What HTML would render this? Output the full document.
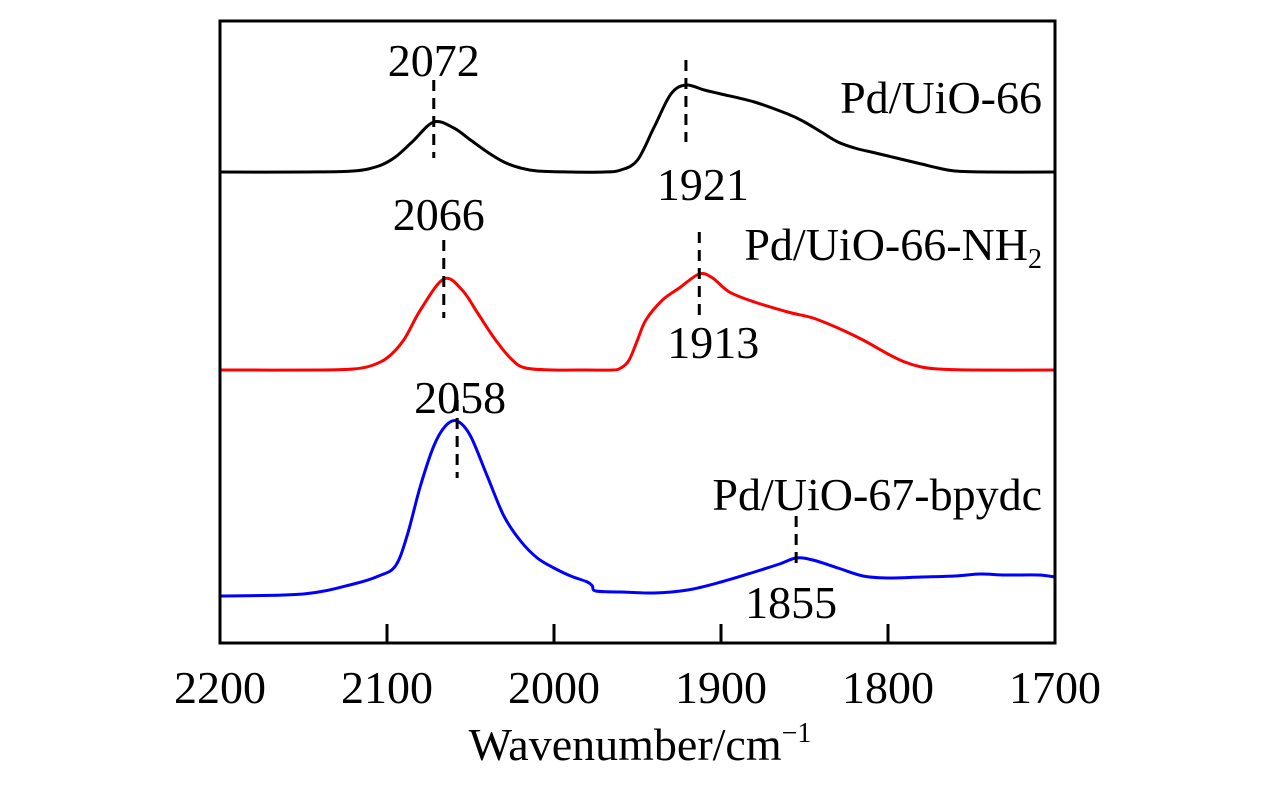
<!DOCTYPE html>
<html><head><meta charset="utf-8">
<style>
html,body{margin:0;padding:0;background:#fff;}
svg{display:block;}
text{font-family:"Liberation Serif","DejaVu Serif",serif;fill:#000;}
</style></head>
<body>
<svg id="chart" width="1276" height="787" viewBox="0 0 1276 787" xmlns="http://www.w3.org/2000/svg">
<g id="plot"></g>
</svg>
<script>
// x-axis ticks (wavenumber, cm^-1)
const tickValues = [2200, 2100, 2000, 1900, 1800, 1700];
const tickLabels = ["2200", "2100", "2000", "1900", "1800", "1700"];
// Series: wavenumbers and intensity above baseline (a.u.)
const uio66Wn = [2200,2150,2120,2105,2095,2085,2072,2060,2050,2040,2030,2020,2010,1990,1970,1960,1950,1940,1930,1921,1910,1900,1880,1860,1850,1840,1830,1820,1810,1800,1790,1780,1770,1760,1740,1700];
const uio66Int = [0,0,1,6,15,30,50,44,32,20,10,4,1,0,0,2,12,45,78,87,82,78,70,58,50,40,30,24,20,16,12,8,4,1,0,0];
const nh2Wn = [2200,2140,2120,2110,2100,2090,2080,2066,2055,2045,2035,2025,2017,2000,1980,1965,1960,1955,1950,1945,1935,1925,1913,1905,1895,1880,1860,1845,1830,1815,1800,1790,1780,1770,1750,1700];
const nh2Int = [0,0,1,4,12,30,60,91,80,55,30,10,2,0,0,0,2,10,30,50,70,82,96,92,78,68,58,52,42,30,16,8,3,1,0,0];
const bpyWn = [2200,2150,2120,2105,2095,2088,2080,2072,2065,2058,2050,2040,2030,2020,2010,2000,1990,1980,1977,1975,1960,1940,1920,1900,1880,1865,1855,1845,1830,1815,1800,1780,1760,1745,1730,1710,1700];
const bpyInt = [0,2,12,20,30,60,110,150,170,175,160,120,80,55,38,28,20,14,10,5,4,3,6,14,24,32,38,36,28,20,18,19,20,22,21,21,19];
const peakWn = [2072, 1921, 2066, 1913, 2058, 1855];

const X0 = 220, X1 = 1055, Y0 = 21, Y1 = 643;
const xs = w => X0 + (2200 - w) * (X1 - X0) / 500;
const SCALE = 1.0;
const NS = "http://www.w3.org/2000/svg";
const g = document.getElementById('plot');
function mk(tag, attrs){const e=document.createElementNS(NS,tag);for(const k in attrs)e.setAttribute(k,attrs[k]);g.appendChild(e);return e;}

function smoothPath(pts){
  let d = `M${pts[0][0].toFixed(1)},${pts[0][1].toFixed(1)}`;
  for(let i=0;i<pts.length-1;i++){
    const p0=pts[Math.max(i-1,0)],p1=pts[i],p2=pts[i+1],p3=pts[Math.min(i+2,pts.length-1)];
    const c1=[p1[0]+(p2[0]-p0[0])/6,p1[1]+(p2[1]-p0[1])/6];
    const c2=[p2[0]-(p3[0]-p1[0])/6,p2[1]-(p3[1]-p1[1])/6];
    d+=` C${c1[0].toFixed(1)},${c1[1].toFixed(1)} ${c2[0].toFixed(1)},${c2[1].toFixed(1)} ${p2[0].toFixed(1)},${p2[1].toFixed(1)}`;
  }
  return d;
}
function series(wn, inten, base, color, name){
  const pts = wn.map((w,i)=>[xs(w), base - inten[i]*SCALE]);
  const p = mk('path',{d:smoothPath(pts),fill:'none',stroke:color,'stroke-width':3,'stroke-linejoin':'round'});
  
  
}
series(uio66Wn, uio66Int, 172, '#000', 'series-pd-uio-66');
series(nh2Wn, nh2Int, 370, '#f00', 'series-pd-uio-66-nh2');
series(bpyWn, bpyInt, 596, '#00f', 'series-pd-uio-67-bpydc');

// frame
const fr = mk('rect',{x:X0,y:Y0,width:X1-X0,height:Y1-Y0,fill:'none',stroke:'#000','stroke-width':3});


tickValues.forEach((v,i)=>{
  if(i>0 && i<tickValues.length-1){
    const t = mk('line',{x1:xs(v),x2:xs(v),y1:Y1,y2:Y1-19,stroke:'#000','stroke-width':3});
    
    
  }
  const l = mk('text',{x:xs(v),y:703,'font-size':46,'text-anchor':'middle'});
  l.textContent = tickLabels[i];
  
  
});

// peak markers: [y1, y2, label y]
const markY = [[80,158,76],[60,142,200],[240,318,230],[232,316,358],[400,478,413],[516,570,618]];
peakWn.forEach((w,i)=>{
  const m = markY[i];
  const ln = mk('line',{x1:xs(w),x2:xs(w),y1:m[0],y2:m[1],stroke:'#000','stroke-width':3,'stroke-dasharray':'11,7'});
  
  
  const offs = [0,17,-5,14,3,-5][i];
  const t = mk('text',{x:xs(w)+offs,y:m[2],'font-size':46,'text-anchor':'middle'});
  t.textContent = String(w);
  
  
});

function lbl(txt, y, name){
  const t = mk('text',{x:1042,y:y,'font-size':46,'text-anchor':'end'});
  t.innerHTML = txt;
  
  
}
lbl('Pd/UiO-66', 113, 'label-pd-uio-66');
lbl('Pd/UiO-66-NH<tspan font-size="28" dy="8">2</tspan>', 260, 'label-pd-uio-66-nh2');
lbl('Pd/UiO-67-bpydc', 510, 'label-pd-uio-67-bpydc');

const xt = mk('text',{x:640,y:760,'font-size':46,'text-anchor':'middle'});
xt.innerHTML = 'Wavenumber/cm<tspan font-size="28" dy="-18">−1</tspan>';


</script>
</body></html>
